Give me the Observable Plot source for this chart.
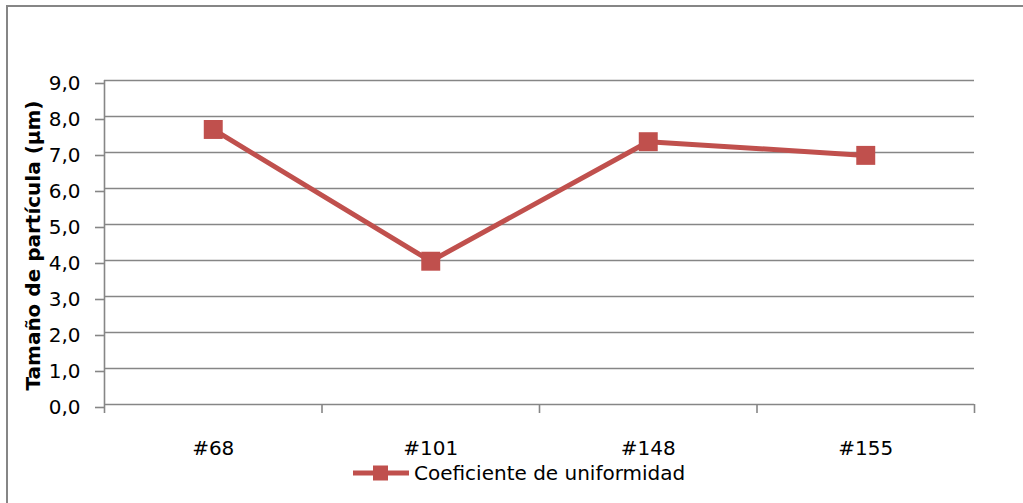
<!DOCTYPE html>
<html>
<head>
<meta charset="utf-8">
<script src="https://cdn.jsdelivr.net/npm/d3@7"></script>
<script src="https://cdn.jsdelivr.net/npm/@observablehq/plot@0.6"></script>
<style>
  html, body { margin: 0; padding: 0; background: #fff; overflow: hidden; width: 1023px; height: 503px; }
  #wrap { position: relative; width: 1023px; height: 503px; }
  #frame { position: absolute; left: 6px; top: 5px; width: 2000px; height: 2000px; border-left: 2px solid #868686; border-top: 2px solid #868686; box-sizing: border-box; }
  #chart { position: absolute; left: 0; top: 0; }
  #legend { position: absolute; left: 353px; top: 461px; height: 24px; display: flex; align-items: center; font-family: "DejaVu Sans", sans-serif; font-size: 20px; color: #000; white-space: nowrap; }
  #legend svg { margin-right: 5px; }
</style>
</head>
<body>
<div id="wrap">
  <div id="frame"></div>
  <div id="chart"></div>
  <div id="legend"></div>
</div>
<script>
const categories = ["#68", "#101", "#148", "#155"];
const values = [7.64, 3.98, 7.30, 6.92];
const yTicks = [0, 1, 2, 3, 4, 5, 6, 7, 8, 9];
const yTitle = "Tamaño de partícula (µm)";
const seriesName = "Coeficiente de uniformidad";
const seriesColor = "#C0504D";
const gridColor = "#868686";

const data = categories.map((c, i) => ({cat: c, idx: i + 0.5, value: values[i]}));
const boundaries = d3.range(categories.length + 1);
const labelPos = categories.map((c, i) => i + 0.5);
const fmt = d => d.toFixed(1).replace(".", ",");

const chart = Plot.plot({
  width: 1023,
  height: 460,
  marginLeft: 104,
  marginRight: 49,
  marginTop: 80,
  marginBottom: 56,
  style: {fontFamily: "DejaVu Sans, sans-serif", fontSize: "20px", background: "transparent", color: "#000", overflow: "visible"},
  x: {type: "linear", domain: [0, categories.length]},
  y: {type: "linear", domain: [0, 9]},
  marks: [
    Plot.ruleY(yTicks, {y: d => d, stroke: gridColor, strokeWidth: 1.6}),
    Plot.ruleX([0], {x: d => d, y1: 0, y2: 9, stroke: gridColor, strokeWidth: 1.6}),
    Plot.axisY({ticks: yTicks, tickFormat: fmt, tickSize: 9, tickPadding: 15, stroke: gridColor, strokeWidth: 1.6, fill: "#000", label: null, dy: 3}),
    Plot.axisX({ticks: boundaries, tickFormat: () => "", tickSize: 9, stroke: gridColor, strokeWidth: 1.6, label: null}),
    Plot.axisX({ticks: labelPos, tickFormat: d => categories[Math.floor(d)], tickSize: 0, tickPadding: 36, fill: "#000", label: null}),
    Plot.line(data, {x: "idx", y: "value", stroke: seriesColor, strokeWidth: 5}),
    Plot.dot(data, {x: "idx", y: "value", symbol: "square", r: 10.7, fill: seriesColor, stroke: "none"}),
    Plot.text([yTitle], {text: d => d, frameAnchor: "left", textAnchor: "middle", dx: -65, dy: 3, rotate: -90, fontWeight: "bold", fontSize: 20, lineAnchor: "bottom", fill: "#000"})
  ]
});
document.getElementById("chart").appendChild(chart);

const legend = document.getElementById("legend");
const sw = d3.create("svg").attr("width", 56).attr("height", 20);
sw.append("line").attr("x1", 0).attr("x2", 56).attr("y1", 10).attr("y2", 10).attr("stroke", seriesColor).attr("stroke-width", 5);
sw.append("rect").attr("x", 20).attr("y", 2.5).attr("width", 15).attr("height", 15).attr("fill", seriesColor);
legend.appendChild(sw.node());
const span = document.createElement("span");
span.textContent = seriesName;
legend.appendChild(span);
</script>
</body>
</html>
